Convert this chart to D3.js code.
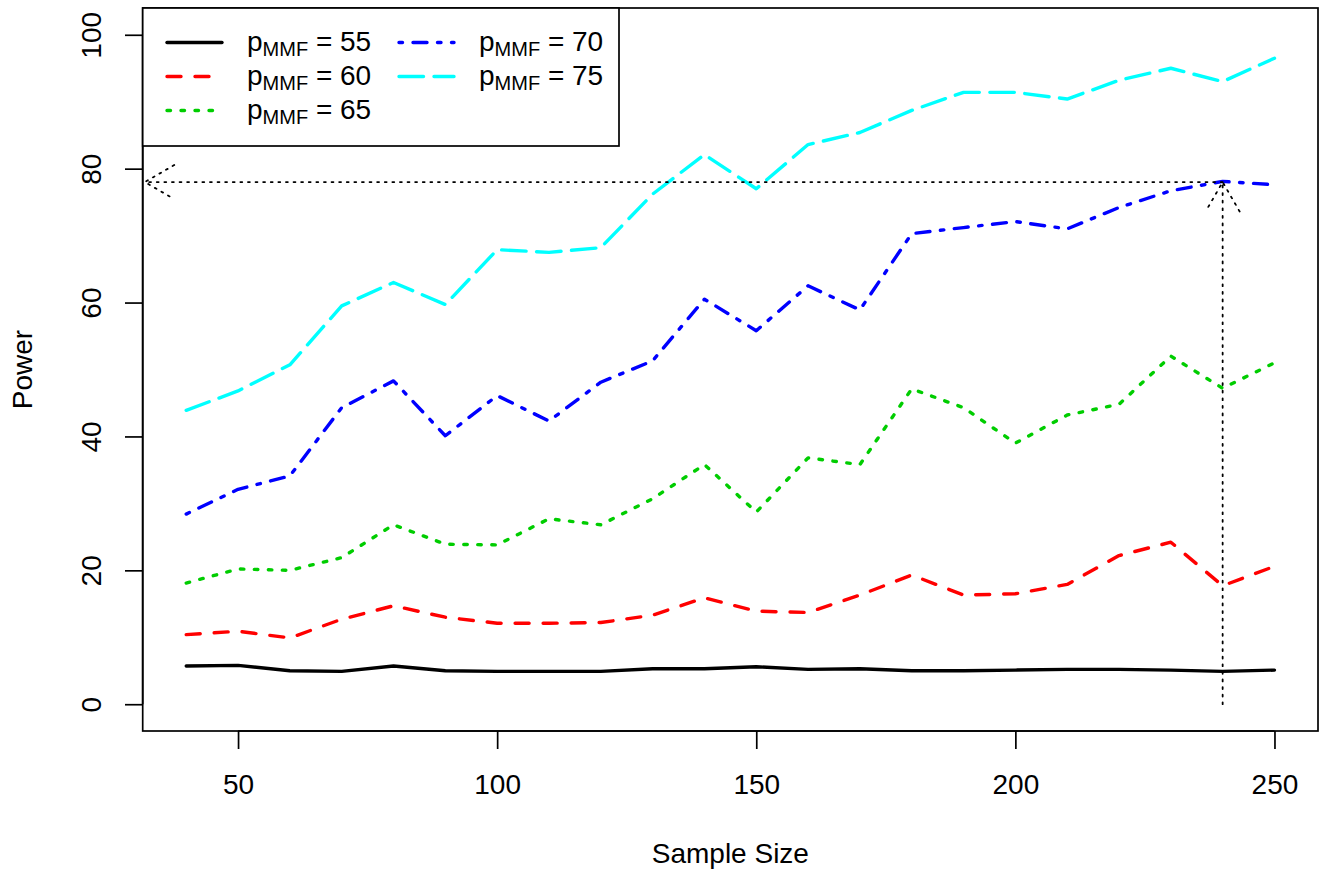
<!DOCTYPE html>
<html>
<head>
<meta charset="utf-8">
<script src="https://cdn.jsdelivr.net/npm/d3@7"></script>
<style>
body { margin: 0; background: #fff; }
svg { display: block; font-family: "Liberation Sans", Arial, Helvetica, sans-serif; }
</style>
</head>
<body>
<script>

// sample sizes and power (%) for each p_MMF
var sizes = [40, 50, 60, 70, 80, 90, 100, 110, 120, 130, 140, 150, 160, 170, 180, 190, 200, 210, 220, 230, 240, 250];
var p55 = [5.7, 5.8, 5.0, 4.9, 5.7, 5.0, 4.9, 4.9, 4.9, 5.3, 5.3, 5.6, 5.2, 5.3, 5.0, 5.0, 5.1, 5.2, 5.2, 5.1, 4.9, 5.1];
var p60 = [10.4, 10.9, 9.9, 12.7, 14.7, 13.0, 12.1, 12.1, 12.2, 13.3, 15.9, 13.9, 13.7, 16.3, 19.3, 16.3, 16.5, 17.9, 22.2, 24.2, 17.7, 20.6];
var p65 = [18.1, 20.2, 20.0, 21.9, 26.8, 23.9, 23.8, 27.7, 26.8, 30.7, 35.8, 28.7, 36.8, 35.8, 47.1, 44.3, 39.0, 43.2, 44.8, 52.0, 47.2, 51.0];
var p70 = [28.4, 32.1, 34.1, 44.3, 48.3, 40.1, 46.1, 42.3, 48.1, 51.3, 60.5, 55.8, 62.5, 58.9, 70.3, 71.2, 72.1, 71.0, 74.2, 76.7, 78.1, 77.6];
var p75 = [43.9, 46.8, 50.7, 59.5, 63.0, 59.7, 67.9, 67.5, 68.2, 76.2, 82.1, 77.0, 83.6, 85.4, 88.7, 91.4, 91.4, 90.4, 93.2, 95.0, 93.0, 96.5];

var seriesNames = ["55", "60", "65", "70", "75"];
var seriesValues = [p55, p60, p65, p70, p75];
var colors = ["#000000", "#FF0000", "#00CD00", "#0000FF", "#00FFFF"];
// R lty 1..5 scaled to line width
var dashes = [null, "14,14", "3.5,10.5", "3.5,10.5,14,10.5", "24.5,10.5"];

var xTicks = [50, 100, 150, 200, 250];
var yTicks = [0, 20, 40, 60, 80, 100];

// reading lines for n = 240 -> power 78
var guides = [
  {x0: 240, y0: 0, x1: 240, y1: 78},
  {x0: 240, y0: 78, x1: 32, y1: 78}
];

var width = 1319, height = 871;
var box = {left: 142.7, right: 1318, top: 8, bottom: 731};
var fs = 28;

var x = d3.scaleLinear().domain([31.6, 258.4]).range([box.left, box.right]);
var y = d3.scaleLinear().domain([-4, 104]).range([box.bottom, box.top]);

var svg = d3.select("body").append("svg")
  .attr("width", width)
  .attr("height", height);

var line = d3.line()
  .x(function(d) { return x(d[0]); })
  .y(function(d) { return y(d[1]); });

// series
seriesValues.forEach(function(vals, i) {
  svg.append("path")
    .datum(sizes.map(function(s, j) { return [s, vals[j]]; }))
    .attr("d", line)
    .attr("fill", "none")
    .attr("stroke", colors[i])
    .attr("stroke-width", 3.4)
    .attr("stroke-linecap", "round")
    .attr("stroke-linejoin", "round")
    .attr("stroke-dasharray", dashes[i]);
});

// dotted arrows
guides.forEach(function(g) {
  var ax = x(g.x0), ay = y(g.y0), bx = x(g.x1), by = y(g.y1);
  var ang = Math.atan2(by - ay, bx - ax);
  var len = 34, spread = Math.PI / 6;
  var p = d3.path();
  p.moveTo(ax, ay); p.lineTo(bx, by);
  p.moveTo(bx - len * Math.cos(ang - spread), by - len * Math.sin(ang - spread));
  p.lineTo(bx, by);
  p.lineTo(bx - len * Math.cos(ang + spread), by - len * Math.sin(ang + spread));
  svg.append("path")
    .attr("d", p.toString())
    .attr("fill", "none")
    .attr("stroke", "#000")
    .attr("stroke-width", 1.8)
    .attr("stroke-linecap", "round")
    .attr("stroke-dasharray", "1.9,5.7");
});

// axes
var xAxis = d3.axisBottom(x).tickValues(xTicks).tickSize(18).tickPadding(24);
var yAxis = d3.axisLeft(y).tickValues(yTicks).tickSize(17.7).tickPadding(0);

var gx = svg.append("g")
  .attr("transform", "translate(0," + box.bottom + ")")
  .call(xAxis);
gx.select(".domain").attr("d", "M" + x(50) + ",0H" + x(250));
gx.selectAll(".tick text").attr("dy", null).attr("y", 63);

var gy = svg.append("g")
  .attr("transform", "translate(" + box.left + ",0)")
  .call(yAxis);
gy.select(".domain").attr("d", "M0," + y(0) + "V" + y(100));
gy.selectAll(".tick text")
  .attr("x", null).attr("dy", null)
  .attr("text-anchor", "middle")
  .attr("transform", "translate(-42,0) rotate(-90)");

svg.selectAll("g").attr("font-size", null).attr("font-family", null);
svg.selectAll(".tick text").attr("fill", "#000").attr("font-size", fs);
svg.selectAll(".domain, .tick line").attr("stroke", "#000").attr("stroke-width", 1.7);

// plot box
svg.append("rect")
  .attr("x", box.left).attr("y", box.top)
  .attr("width", box.right - box.left).attr("height", box.bottom - box.top)
  .attr("fill", "none").attr("stroke", "#000").attr("stroke-width", 1.7);

// axis titles
svg.append("text")
  .attr("x", (box.left + box.right) / 2).attr("y", 863)
  .attr("text-anchor", "middle").attr("font-size", fs)
  .text("Sample Size");
svg.append("text")
  .attr("transform", "translate(32," + (box.top + box.bottom) / 2 + ") rotate(-90)")
  .attr("text-anchor", "middle").attr("font-size", fs)
  .text("Power");

// legend
var legend = svg.append("g");
legend.append("rect")
  .attr("x", box.left).attr("y", box.top)
  .attr("width", 619 - box.left).attr("height", 146 - box.top)
  .attr("fill", "#fff").attr("stroke", "#000").attr("stroke-width", 1.7);

seriesNames.forEach(function(name, i) {
  var col = i < 3 ? 0 : 1, row = i < 3 ? i : i - 3;
  var lx = col ? 399 : 167, tx = col ? 479 : 247;
  var base = 51 + row * 34;
  legend.append("line")
    .attr("x1", lx).attr("x2", lx + 55)
    .attr("y1", base - 8.5).attr("y2", base - 8.5)
    .attr("stroke", colors[i])
    .attr("stroke-width", 3.4)
    .attr("stroke-linecap", "round")
    .attr("stroke-dasharray", dashes[i]);
  var t = legend.append("text")
    .attr("x", tx).attr("y", base)
    .attr("font-size", fs);
  t.append("tspan").text("p");
  t.append("tspan").attr("font-size", 20).attr("dy", 5).text("MMF");
  t.append("tspan").attr("dy", -5).text(" = " + name);
});

</script>
</body>
</html>
